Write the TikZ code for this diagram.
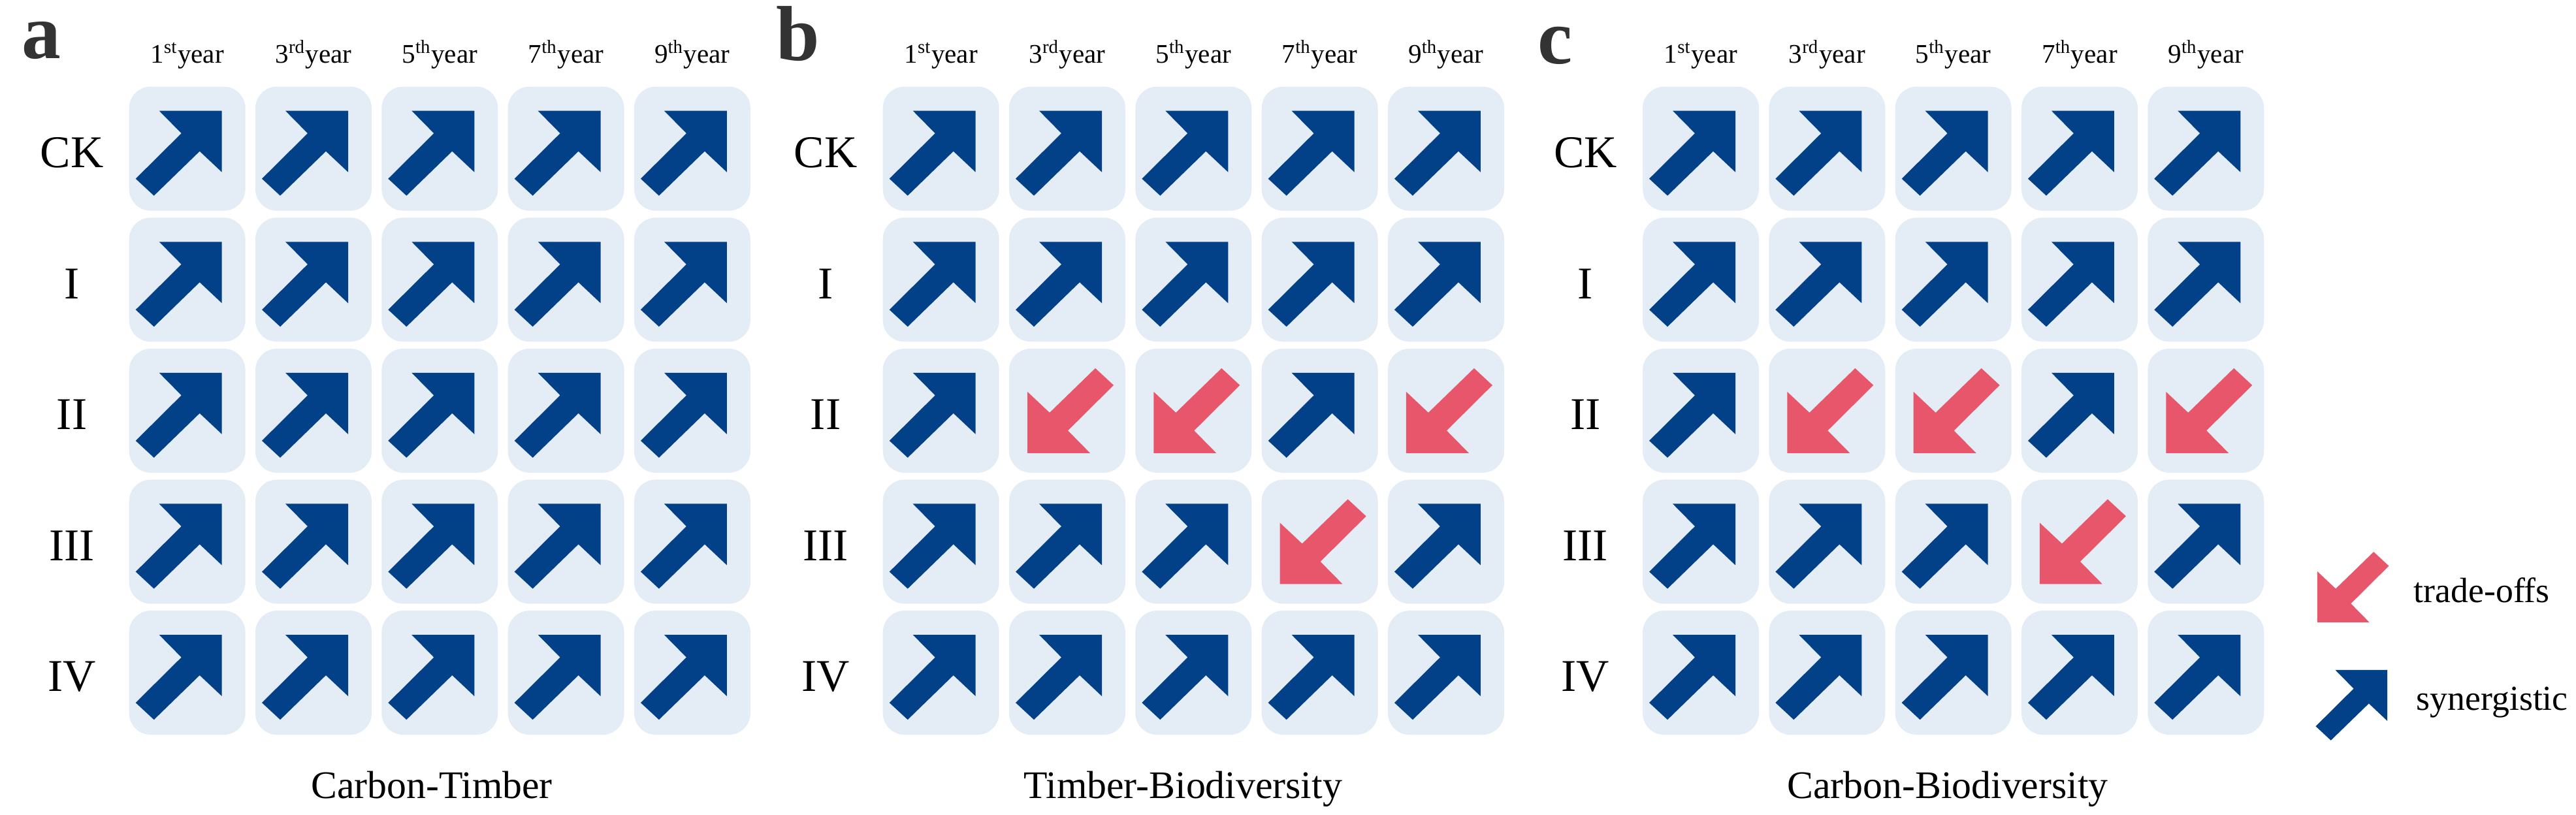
\documentclass[tikz,border=0pt]{standalone}
\usepackage{fontspec}
\setmainfont{Liberation Serif}
\usetikzlibrary{positioning}
\definecolor{cellbg}{RGB}{228,237,246}
\definecolor{synblue}{RGB}{2,65,136}
\definecolor{trored}{RGB}{232,86,107}
\definecolor{lettergray}{RGB}{51,51,51}
\newcommand\arrowshape{(0.53,0.58)--(-0.43,0.58)--(-0.09,0.235)--(-0.79,-0.46)
  --(-0.51,-0.72)--(0.19,-0.04)--(0.53,-0.36)--cycle}
\newcommand\fsz[1]{\fontsize{#1}{#1}\selectfont}

\begin{document}
\begin{tikzpicture}[every node/.style={inner sep=0pt},
      cell/.style={fill=cellbg,rounded corners=3.3mm,minimum width=17.8mm,
        minimum height=19mm},
      up/.pic={\fill[synblue]\arrowshape;},
      dn/.pic={\fill[trored,shift={(-0.08,-0.07)},rotate=180]\arrowshape;}]
  \useasboundingbox(0,0)rectangle(39.44,12.48);
  \foreach\p/\x/\lx/\ly/\tx/\ttl[count=\n] in {a/2.867/0.63/11.58/6.61/Carbon-Timber,
      b/14.407/12.22/11.55/18.11/Timber-Biodiversity,
      c/26.04/23.81/11.50/29.82/Carbon-Biodiversity}{
    \node[anchor=base,font=\fsz{34pt}\bfseries,text=lettergray](\p-lab)at(\lx,\ly){\p};
    \foreach\r/\rl in {1/CK,2/I,3/II,4/III,5/IV}{
      \foreach\c in {1,...,5}{
        \node[cell](\p-\r-\c)at(\x+1.933*\c-1.933,12.209-2.006*\r){};
        \pgfmathtruncatemacro\istro{(\n>1)*((\r==3)*((\c==2)+(\c==3)+(\c==5))+(\r==4)*(\c==4))}
        \ifnum\istro=1 \pic at(\p-\r-\c){dn};\else\pic at(\p-\r-\c){up};\fi
      }
      \node[font=\fsz{19.8pt}](\p-row\r)at([xshift=-17.67mm,yshift=-0.6mm]\p-\r-1.center){\rl};
    }
    \foreach\c/\yr/\sfx in {1/1/st,2/3/rd,3/5/th,4/7/th,5/9/th}
      \node[anchor=base,font=\fsz{11.7pt}](\p-yr\c)at([yshift=3.5mm]\p-1-\c.north)
        {\yr\textsuperscript{\sfx}year};
    \node[anchor=base,font=\fsz{17pt}](\p-title)at(\tx,0.25){\ttl};
  }
  \pic[scale=0.83]at(35.985,3.49){dn};
  \node[anchor=base west,font=\fsz{15.3pt}](tro)at(36.95,3.25){trade-offs};
  \pic[scale=0.83]at(36.11,1.74){up};
  \node[anchor=base west,font=\fsz{15.3pt}](syn)at(36.99,1.60){synergistic};
\end{tikzpicture}
\end{document}
